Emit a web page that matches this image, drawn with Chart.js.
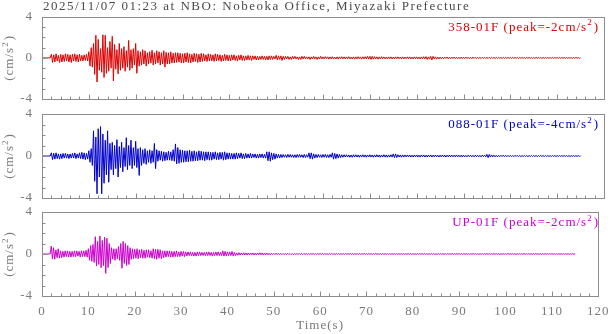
<!DOCTYPE html>
<html>
<head>
<meta charset="utf-8">
<title>NBO strong motion record</title>
<script src="https://cdn.jsdelivr.net/npm/chart.js@4/dist/chart.umd.min.js"></script>
<style>
  html, body { margin: 0; padding: 0; background: #ffffff; }
  #wrap { position: relative; width: 616px; height: 334px; overflow: hidden; }
  #wrap canvas { position: absolute; left: 0; top: 0; }
</style>
</head>
<body>
<div id="wrap">
  <canvas id="p1" width="616" height="334"></canvas>
  <canvas id="p2" width="616" height="334"></canvas>
  <canvas id="p3" width="616" height="334"></canvas>
</div>
<script>
// ---- record header ----
const TITLE = '2025/11/07 01:23 at NBO: Nobeoka Office, Miyazaki Prefecture';
const COMPONENTS = ['358-01F', '088-01F', 'UP-01F'];
const PEAKS = [-2, -4, -2];               // cm/s^2, as printed in the panel labels
const SAMPLE_STEP = 0.25;                  // seconds between samples
const X_TICKS = [0, 10, 20, 30, 40, 50, 60, 70, 80, 90, 100, 110, 120];
const Y_TICKS = [-4, 0, 4];

// ---- acceleration traces (cm/s^2), one sample every SAMPLE_STEP s from t = 0 ----
const acc358 = [
  0,0,0,0, 0,0,0,0, 0.35,-0.45,0.3,-0.4, 0.4,-0.3,0.25,-0.45, 0.35,-0.4,0.3,-0.35,
  0.4,-0.3,0.35,-0.4, 0.3,-0.45,0.35,-0.3, 0.4,-0.35,0.3,-0.4, 0.35,-0.3,0.25,-0.3, 0.3,-0.25,0.35,-0.3,
  0.6,-0.8,1.0,-0.9, 1.4,-1.6,2.2,-2.35, 1.8,-1.2,0.9,-1.4, 2.25,-1.9,2.2,-1.5, 1.0,-1.3,1.6,-1.0,
  2.1,-2.25,1.3,-1.1, 0.8,-1.55,1.4,-1.2, 0.9,-1.0,1.1,-1.3, 0.7,-0.9,1.7,-1.2, 0.8,-1.0,0.9,-0.7,
  1.4,-1.5,0.7,-0.8, 0.6,-0.7,0.8,-0.6, 0.7,-0.8,0.5,-0.6, 0.6,-0.5,0.75,-0.7, 0.5,-0.6,0.7,-0.5,
  0.6,-0.7,0.5,-0.6, 0.7,-0.9,0.55,-0.6, 0.5,-0.6,0.6,-0.5, 0.45,-0.5,0.5,-0.45, 0.5,-0.4,0.45,-0.5,
  0.4,-0.5,0.45,-0.4, 0.5,-0.45,0.4,-0.5, 0.35,-0.4,0.45,-0.35, 0.4,-0.45,0.35,-0.4, 0.45,-0.35,0.4,-0.3,
  0.3,-0.35,0.4,-0.3, 0.35,-0.3,0.3,-0.35, 0.4,-0.3,0.35,-0.25, 0.3,-0.35,0.25,-0.3, 0.35,-0.25,0.3,-0.3,
  0.25,-0.3,0.3,-0.2, 0.3,-0.25,0.2,-0.3, 0.25,-0.2,0.3,-0.25, 0.2,-0.25,0.2,-0.2, 0.25,-0.2,0.2,-0.25,
  0.2,-0.15,0.2,-0.2, 0.15,-0.2,0.15,-0.15, 0.2,-0.15,0.15,-0.2, 0.15,-0.2,0.2,-0.15, 0.2,-0.15,0.15,-0.1,
  0.25,-0.2,0.2,-0.15, 0.2,-0.25,0.15,-0.15, 0.15,-0.1,0.15,-0.15, 0.1,-0.15,0.15,-0.1, 0.15,-0.1,0.1,-0.15,
  0.1,-0.15,0.15,-0.1, 0.15,-0.1,0.1,-0.1, 0.1,-0.15,0.1,-0.1, 0.15,-0.1,0.1,-0.15, 0.1,-0.1,0.15,-0.1,
  0.1,-0.1,0.12,-0.08, 0.1,-0.12,0.1,-0.1, 0.12,-0.1,0.08,-0.1, 0.1,-0.12,0.1,-0.08, 0.12,-0.1,0.1,-0.1,
  0.1,-0.08,0.12,-0.1, 0.08,-0.1,0.1,-0.12, 0.1,-0.1,0.12,-0.08, 0.1,-0.12,0.1,-0.1, 0.12,-0.1,0.15,-0.12,
  0.15,-0.15,0.15,-0.12, 0.12,-0.1,0.1,-0.12, 0.1,-0.1,0.12,-0.08, 0.1,-0.1,0.08,-0.1, 0.1,-0.08,0.1,-0.1,
  0.08,-0.1,0.1,-0.08, 0.1,-0.08,0.08,-0.1, 0.1,-0.1,0.08,-0.08, 0.1,-0.08,0.1,-0.1, 0.08,-0.1,0.1,-0.08,
  0.1,-0.1,0.08,-0.1, 0.1,-0.08,0.12,-0.1, 0.12,-0.15,0.1,-0.12, 0.15,-0.2,0.15,-0.1, 0.1,-0.12,0.08,-0.1,
  0.08,-0.08,0.06,-0.08, 0.08,-0.06,0.08,-0.08, 0.06,-0.08,0.08,-0.06, 0.08,-0.06,0.06,-0.08, 0.06,-0.08,0.08,-0.06,
  0.06,-0.06,0.08,-0.06, 0.06,-0.08,0.06,-0.06, 0.08,-0.06,0.06,-0.06, 0.06,-0.06,0.05,-0.06, 0.06,-0.05,0.06,-0.06,
  0.05,-0.06,0.06,-0.05, 0.06,-0.05,0.05,-0.06, 0.05,-0.05,0.06,-0.05, 0.05,-0.06,0.05,-0.05, 0.06,-0.05,0.05,-0.05,
  0.05,-0.05,0.06,-0.05, 0.05,-0.05,0.05,-0.06, 0.05,-0.04,0.05,-0.05, 0.04,-0.05,0.05,-0.04, 0.05,-0.05,0.04,-0.05,
  0.04,-0.05,0.05,-0.04, 0.05,-0.04,0.04,-0.05, 0.04,-0.04,0.05,-0.04, 0.04,-0.05,0.04,-0.04, 0.05,-0.04,0.04,-0.04,
  0.04,-0.04,0.05,-0.04, 0.04,-0.04,0.04,-0.05, 0.04,-0.04,0.04,-0.04, 0.03,-0.04,0.04,-0.03, 0.04,-0.03,0.03,-0.04,
  0
];

const acc088 = [
  0,0,0,0, 0,0,0,0, 0.3,-0.35,0.25,-0.3, 0.3,-0.25,0.2,-0.3, 0.2,-0.25,0.25,-0.2,
  0.25,-0.2,0.2,-0.25, 0.2,-0.2,0.25,-0.2, 0.3,-0.25,0.2,-0.2, 0.3,-0.25,0.35,-0.3, 0.3,-0.35,0.25,-0.3,
  0.5,-0.6,0.7,-0.9, 2.4,-2.4,1.8,-3.6, 2.6,-2.0,2.8,-3.6, 2.1,-2.6,1.5,-1.8, 2.4,-2.5,1.2,-1.3,
  1.3,-1.8,1.0,-1.2, 1.55,-2.0,0.9,-1.1, 1.3,-1.5,0.8,-1.0, 1.75,-1.3,1.0,-0.9, 1.5,-1.2,0.8,-0.9,
  1.4,-1.1,0.7,-1.85, 0.8,-0.9,0.6,-0.7, 0.7,-0.8,0.5,-0.6, 0.6,-0.7,0.5,-0.6, 1.2,-1.2,0.6,-0.5,
  0.5,-0.4,0.45,-0.5, 0.4,-0.45,0.35,-0.4, 0.45,-0.4,0.4,-0.45, 0.6,-0.5,1.15,-0.75, 0.8,-0.7,0.6,-0.6,
  0.55,-0.6,0.5,-0.55, 0.5,-0.55,0.55,-0.5, 0.45,-0.5,0.5,-0.45, 0.4,-0.45,0.5,-0.4, 0.45,-0.4,0.4,-0.45,
  0.4,-0.35,0.4,-0.4, 0.35,-0.4,0.35,-0.3, 0.4,-0.35,0.3,-0.35, 0.35,-0.3,0.35,-0.4, 0.4,-0.35,0.3,-0.3,
  0.3,-0.3,0.25,-0.3, 0.25,-0.3,0.3,-0.25, 0.25,-0.2,0.3,-0.25, 0.2,-0.25,0.25,-0.2, 0.2,-0.2,0.25,-0.2,
  0.2,-0.15,0.2,-0.2, 0.15,-0.2,0.2,-0.15, 0.2,-0.2,0.15,-0.2, 0.4,-0.45,0.4,-0.5, 0.3,-0.35,0.25,-0.3,
  0.2,-0.2,0.15,-0.2, 0.15,-0.15,0.15,-0.12, 0.12,-0.15,0.15,-0.12, 0.15,-0.12,0.12,-0.15, 0.12,-0.15,0.15,-0.12,
  0.15,-0.12,0.12,-0.15, 0.15,-0.15,0.12,-0.12, 0.3,-0.25,0.3,-0.3, 0.2,-0.2,0.15,-0.15, 0.15,-0.12,0.12,-0.15,
  0.15,-0.12,0.15,-0.15, 0.12,-0.15,0.15,-0.12, 0.3,-0.3,0.25,-0.25, 0.2,-0.2,0.15,-0.15, 0.12,-0.12,0.12,-0.1,
  0.12,-0.1,0.1,-0.12, 0.1,-0.12,0.12,-0.1, 0.12,-0.1,0.1,-0.12, 0.1,-0.1,0.12,-0.1, 0.1,-0.12,0.1,-0.1,
  0.12,-0.1,0.1,-0.12, 0.1,-0.1,0.12,-0.1, 0.1,-0.12,0.1,-0.1, 0.12,-0.1,0.1,-0.12, 0.1,-0.1,0.12,-0.1,
  0.2,-0.15,0.2,-0.15, 0.12,-0.1,0.1,-0.12, 0.1,-0.1,0.1,-0.08, 0.1,-0.08,0.1,-0.1, 0.08,-0.1,0.1,-0.08,
  0.1,-0.1,0.08,-0.1, 0.1,-0.08,0.1,-0.1, 0.08,-0.1,0.1,-0.08, 0.1,-0.1,0.08,-0.08, 0.1,-0.08,0.08,-0.1,
  0.08,-0.08,0.1,-0.08, 0.08,-0.1,0.08,-0.08, 0.1,-0.08,0.08,-0.08, 0.08,-0.08,0.1,-0.08, 0.08,-0.08,0.08,-0.1,
  0.08,-0.08,0.06,-0.08, 0.08,-0.06,0.08,-0.08, 0.06,-0.08,0.08,-0.06, 0.08,-0.08,0.06,-0.08, 0.08,-0.06,0.08,-0.08,
  0.15,-0.15,0.15,-0.1, 0.1,-0.08,0.08,-0.08, 0.06,-0.08,0.06,-0.06, 0.06,-0.06,0.08,-0.06, 0.06,-0.06,0.06,-0.06,
  0.06,-0.06,0.05,-0.06, 0.06,-0.05,0.06,-0.06, 0.05,-0.06,0.05,-0.05, 0.06,-0.05,0.05,-0.06, 0.05,-0.05,0.06,-0.05,
  0.05,-0.05,0.05,-0.06, 0.05,-0.05,0.06,-0.05, 0.05,-0.05,0.05,-0.05, 0.05,-0.05,0.04,-0.05, 0.05,-0.04,0.05,-0.05,
  0.04,-0.05,0.05,-0.04, 0.04,-0.04,0.05,-0.04, 0.04,-0.04,0.04,-0.05, 0.04,-0.04,0.04,-0.04, 0.03,-0.04,0.04,-0.03,
  0
];

const accUP = [
  0,0,0,0, 0,0,0,0, 0.75,-0.45,0.6,-0.5, 0.4,-0.35,0.5,-0.4, 0.3,-0.35,0.25,-0.3,
  0.3,-0.25,0.3,-0.3, 0.25,-0.3,0.25,-0.25, 0.3,-0.25,0.3,-0.2, 0.25,-0.3,0.3,-0.25, 0.3,-0.25,0.35,-0.3,
  0.5,-0.6,0.8,-0.7, 0.9,-0.8,1.65,-1.15, 1.2,-1.0,1.7,-1.3, 1.3,-1.1,1.6,-1.85, 1.5,-1.3,1.0,-0.9,
  0.6,-0.5,0.5,-0.6, 0.5,-0.45,0.7,-0.6, 1.0,-1.35,1.2,-0.9, 1.0,-1.1,0.8,-1.0, 0.6,-0.5,0.5,-0.45,
  0.45,-0.4,0.5,-0.45, 0.4,-0.35,0.45,-0.4, 0.35,-0.4,0.4,-0.3, 0.4,-0.35,0.3,-0.4, 0.5,-0.45,0.45,-0.5,
  0.45,-0.4,0.4,-0.45, 0.3,-0.35,0.3,-0.3, 0.3,-0.25,0.3,-0.3, 0.25,-0.3,0.25,-0.25, 0.3,-0.25,0.2,-0.25,
  0.25,-0.2,0.25,-0.25, 0.2,-0.2,0.2,-0.15, 0.2,-0.15,0.15,-0.2, 0.15,-0.2,0.2,-0.15, 0.2,-0.15,0.15,-0.15,
  0.15,-0.15,0.2,-0.15, 0.2,-0.15,0.15,-0.2, 0.15,-0.15,0.2,-0.15, 0.2,-0.15,0.15,-0.15, 0.3,-0.2,0.25,-0.2,
  0.2,-0.15,0.2,-0.15, 0.25,-0.2,0.15,-0.15, 0.1,-0.12,0.12,-0.1, 0.1,-0.1,0.12,-0.1, 0.1,-0.1,0.1,-0.08,
  0.1,-0.08,0.1,-0.1, 0.08,-0.1,0.1,-0.08, 0.12,-0.08,0.1,-0.1, 0.08,-0.08,0.1,-0.08, 0.06,-0.08,0.06,-0.06,
  0.06,-0.06,0.08,-0.06, 0.06,-0.05,0.06,-0.06, 0.05,-0.06,0.05,-0.05, 0.06,-0.05,0.05,-0.06, 0.05,-0.05,0.05,-0.05,
  0.05,-0.05,0.06,-0.05, 0.05,-0.06,0.05,-0.05, 0.05,-0.05,0.04,-0.05, 0.05,-0.04,0.05,-0.05, 0.04,-0.05,0.05,-0.04,
  0.05,-0.04,0.06,-0.05, 0.05,-0.05,0.04,-0.05, 0.05,-0.04,0.05,-0.05, 0.04,-0.05,0.05,-0.04, 0.05,-0.05,0.04,-0.04,
  0.04,-0.05,0.05,-0.04, 0.04,-0.04,0.05,-0.04, 0.04,-0.05,0.04,-0.04, 0.05,-0.04,0.04,-0.04, 0.04,-0.04,0.05,-0.04,
  0.04,-0.04,0.05,-0.04, 0.04,-0.05,0.04,-0.04, 0.05,-0.04,0.04,-0.04, 0.04,-0.04,0.05,-0.04, 0.04,-0.04,0.04,-0.05,
  0.04,-0.04,0.04,-0.03, 0.04,-0.04,0.05,-0.04, 0.04,-0.04,0.04,-0.04, 0.03,-0.04,0.04,-0.04, 0.04,-0.03,0.04,-0.04,
  0.04,-0.04,0.03,-0.04, 0.04,-0.04,0.04,-0.03, 0.04,-0.04,0.04,-0.04, 0.03,-0.04,0.04,-0.03, 0.04,-0.04,0.03,-0.04,
  0.03,-0.04,0.04,-0.03, 0.04,-0.03,0.03,-0.04, 0.04,-0.04,0.03,-0.03, 0.04,-0.03,0.04,-0.04, 0.03,-0.03,0.04,-0.03,
  0.04,-0.03,0.03,-0.04, 0.03,-0.03,0.04,-0.03, 0.03,-0.04,0.03,-0.03, 0.04,-0.03,0.03,-0.03, 0.03,-0.04,0.03,-0.03,
  0.05,-0.04,0.05,-0.04, 0.04,-0.03,0.03,-0.03, 0.03,-0.03,0.04,-0.03, 0.03,-0.03,0.03,-0.04, 0.03,-0.03,0.03,-0.03,
  0.03,-0.03,0.04,-0.03, 0.03,-0.03,0.03,-0.03, 0.03,-0.04,0.03,-0.03, 0.03,-0.03,0.03,-0.03, 0.04,-0.03,0.03,-0.03,
  0.03,-0.03,0.03,-0.03, 0.03,-0.03,0.04,-0.03, 0.03,-0.03,0.03,-0.03, 0.03,-0.03,0.03,-0.03, 0.03,-0.03,0.03,-0.02,
  0.03,-0.02,0.03,-0.03, 0.02,-0.03,0.03,-0.02, 0.03,-0.03,0.02,-0.03, 0.03,-0.02,0.02,-0.03, 0.02,-0.02,0.03,-0.02,
  0
];

// ---- styling ----
const FONT = "'Liberation Serif', 'Times New Roman', serif";
const AXIS_COLOR = '#8c8c8c';
const LABEL_COLOR = '#7a7a7a';
const TITLE_COLOR = '#4a4a4a';
const TRACE_COLORS = ['#dd0000', '#0000cc', '#cc00cc'];
const PANELS = [ { top: 15, bottom: 99 }, { top: 114, bottom: 198 }, { top: 212, bottom: 296 } ];
const X_MINOR_STEP = 2;
const Y_MINOR_STEP = 1;

Chart.defaults.font.family = FONT;

// text with a superscript piece: [normal, sup, normal]
function measureSup(ctx, parts, size) {
  ctx.font = size + 'px ' + FONT;
  const a = ctx.measureText(parts[0]).width;
  const c = ctx.measureText(parts[2]).width;
  ctx.font = Math.round(size * 0.72) + 'px ' + FONT;
  const b = ctx.measureText(parts[1]).width;
  return [a, b, c];
}
function drawSup(ctx, x, y, parts, size) {
  const w = measureSup(ctx, parts, size);
  ctx.textAlign = 'left';
  ctx.textBaseline = 'alphabetic';
  ctx.font = size + 'px ' + FONT;
  ctx.fillText(parts[0], x, y);
  ctx.font = Math.round(size * 0.72) + 'px ' + FONT;
  ctx.fillText(parts[1], x + w[0], y - size * 0.42);
  ctx.font = size + 'px ' + FONT;
  ctx.fillText(parts[2], x + w[0] + w[1] + 1, y);
  return w[0] + w[1] + w[2] + 1;
}

const panelDecor = {
  id: 'panelDecor',
  beforeDraw(chart) {
    chart.ctx.letterSpacing = '1px';
  },
  afterDraw(chart, args, o) {
    const { ctx, chartArea: a, scales: { x, y } } = chart;
    const L = Math.round(a.left) + 0.5, R = Math.round(a.right) + 0.5;
    const T = Math.round(a.top) + 0.5, B = Math.round(a.bottom) + 0.5;
    ctx.save();
    ctx.strokeStyle = AXIS_COLOR;
    ctx.lineWidth = 1;
    ctx.strokeRect(L, T, R - L, B - T);
    // inward ticks on the time axis and the acceleration axis
    ctx.beginPath();
    for (let t = x.min; t <= x.max; t += X_MINOR_STEP) {
      const px = Math.round(x.getPixelForValue(t)) + 0.5;
      const len = (t % 10 === 0) ? 5 : 3;
      ctx.moveTo(px, B); ctx.lineTo(px, B - len);
    }
    for (let v = y.min; v <= y.max; v += Y_MINOR_STEP) {
      const py = Math.round(y.getPixelForValue(v)) + 0.5;
      const len = (v % 4 === 0) ? 5 : 3;
      ctx.moveTo(L, py); ctx.lineTo(L + len, py);
    }
    ctx.stroke();

    ctx.letterSpacing = '1px';
    // component label, top right
    ctx.fillStyle = o.color;
    const parts = [o.name + ' (peak=' + o.peak + 'cm/s', '2', ')'];
    const w = measureSup(ctx, parts, 13);
    drawSup(ctx, 599 - (w[0] + w[1] + w[2] + 1), a.top + 14, parts, 13);

    // vertical unit label
    ctx.fillStyle = LABEL_COLOR;
    const uparts = ['(cm/s', '2', ')'];
    const uw = measureSup(ctx, uparts, 13);
    ctx.translate(13, (a.top + a.bottom) / 2);
    ctx.rotate(-Math.PI / 2);
    drawSup(ctx, -(uw[0] + uw[1] + uw[2] + 1) / 2, 0, uparts, 13);
    ctx.setTransform(1, 0, 0, 1, 0, 0);

    if (o.title) {
      ctx.fillStyle = TITLE_COLOR;
      ctx.letterSpacing = '1.5px';
      ctx.font = '13px ' + FONT;
      ctx.textAlign = 'left';
      ctx.textBaseline = 'alphabetic';
      ctx.fillText(o.title, 43, 10);
    }
    if (o.xTitle) {
      ctx.fillStyle = LABEL_COLOR;
      ctx.letterSpacing = '1px';
      ctx.font = '13px ' + FONT;
      ctx.textAlign = 'center';
      ctx.textBaseline = 'alphabetic';
      ctx.fillText(o.xTitle, (a.left + a.right) / 2, 329);
    }
    ctx.restore();
  }
};

function makePanel(id, idx, values) {
  const isLast = idx === 2;
  const p = PANELS[idx];
  const xAxisHeight = isLast ? 334 - p.bottom : 0;
  const points = values.map((v, i) => ({ x: i * SAMPLE_STEP, y: v }));
  return new Chart(document.getElementById(id), {
    type: 'line',
    data: {
      datasets: [{
        data: points,
        borderColor: TRACE_COLORS[idx],
        borderWidth: 1,
        pointRadius: 0,
        tension: 0,
        fill: false
      }]
    },
    options: {
      responsive: false,
      animation: false,
      devicePixelRatio: 1,
      layout: { padding: { left: 0, right: 12, top: p.top, bottom: 334 - p.bottom - xAxisHeight } },
      plugins: {
        legend: { display: false },
        tooltip: { enabled: false },
        panelDecor: {
          name: COMPONENTS[idx],
          peak: PEAKS[idx],
          color: TRACE_COLORS[idx],
          title: idx === 0 ? TITLE : null,
          xTitle: isLast ? 'Time(s)' : null
        }
      },
      scales: {
        x: {
          type: 'linear',
          min: X_TICKS[0],
          max: X_TICKS[X_TICKS.length - 1],
          grid: { display: false, drawTicks: false },
          border: { display: false },
          afterBuildTicks: s => { s.ticks = X_TICKS.map(v => ({ value: v })); },
          ticks: {
            display: isLast,
            autoSkip: false,
            maxRotation: 0,
            padding: 8,
            color: LABEL_COLOR,
            font: { size: 13, family: FONT }
          },
          afterFit: s => { s.height = xAxisHeight; }
        },
        y: {
          min: Y_TICKS[0],
          max: Y_TICKS[Y_TICKS.length - 1],
          grid: { display: false, drawTicks: false },
          border: { display: false },
          afterBuildTicks: s => { s.ticks = Y_TICKS.map(v => ({ value: v })); },
          ticks: {
            padding: 9,
            color: LABEL_COLOR,
            font: { size: 13, family: FONT }
          },
          afterFit: s => { s.width = 42; }
        }
      }
    },
    plugins: [panelDecor]
  });
}

makePanel('p1', 0, acc358);
makePanel('p2', 1, acc088);
makePanel('p3', 2, accUP);
</script>
</body>
</html>
